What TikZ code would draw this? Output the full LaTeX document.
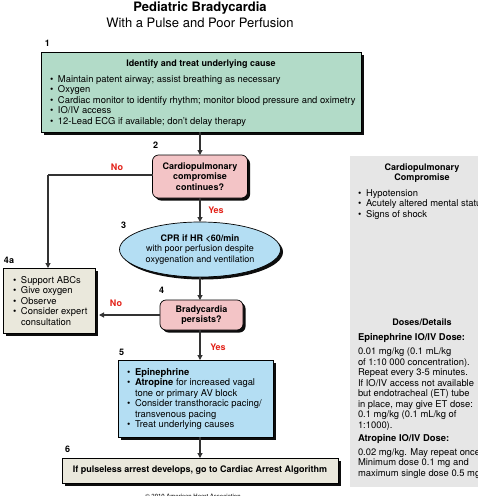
\documentclass[tikz,border=0pt]{standalone}
\usepackage{fontspec}
\setmainfont{TeX Gyre Heros}
\usetikzlibrary{shapes.geometric,shadows,arrows.meta}
\definecolor{boxgreen}{HTML}{B2DBC8}
\definecolor{boxpink}{HTML}{F3C4C6}
\definecolor{boxblue}{HTML}{B4DEF3}
\definecolor{boxbeige}{HTML}{EAE8DC}
\definecolor{panelgrey}{HTML}{E6E6E6}
\definecolor{labred}{HTML}{E32219}
\definecolor{linegrey}{HTML}{333333}
\newcommand\bitem[1]{\makebox[8pt][l]{\textbullet}#1}
\newcommand\bcont[1]{\hspace*{8pt}#1}
\begin{document}
\begin{tikzpicture}[x=1pt,y=-1pt,
  every node/.style={inner sep=0pt, outer sep=0pt},
  body/.style={font=\fontsize{9.4}{10.5}\selectfont},
  bodyb/.style={font=\fontsize{9}{10.5}\selectfont\bfseries},
  shad/.style={drop shadow={shadow xshift=2.5pt,shadow yshift=-2.5pt,fill=black,opacity=0.95}},
  boxbase/.style={draw=black, line width=0.7pt, shad},
  greenbox/.style={boxbase, fill=boxgreen, rectangle},
  pinkbox/.style={boxbase, fill=boxpink, rectangle, rounded corners=6pt, bodyb, align=center},
  bluebox/.style={boxbase, fill=boxblue, rectangle},
  beigebox/.style={boxbase, fill=boxbeige, rectangle},
  ellbox/.style={boxbase, fill=boxblue, ellipse, bodyb, align=center},
  txt/.style={body, align=left, anchor=base west},
  num/.style={bodyb, anchor=base west},
  yn/.style={bodyb, text=labred},
  arr/.style={draw=linegrey, line width=1.1pt, -{Triangle[length=5pt,width=5pt]}},
  ln/.style={draw=linegrey, line width=1.1pt}
]
\useasboundingbox (0,0) rectangle (478,496);
\begin{scope}
\clip (0,0) rectangle (478,496);
\fill[white] (0,0) rectangle (478,496);

% title
\node[font=\fontsize{13}{15}\selectfont\bfseries] (title) at (200,8) {Pediatric Bradycardia};
\node[font=\fontsize{13}{15}\selectfont] (subtitle) at (200,23) {With a Pulse and Poor Perfusion};

% right panel
\node[fill=panelgrey, minimum width=140pt, minimum height=331pt, anchor=north west] (panel) at (350,156) {};
\node[bodyb, align=center, anchor=base] (pt1) at (422,180.5) {Cardiopulmonary\\Compromise};
\node[txt] (pt2) at (358,217) {\bitem{Hypotension}\\\bitem{Acutely altered mental status}\\\bitem{Signs of shock}};
\node[bodyb, anchor=base] (pt3) at (422,325) {Doses/Details};
\node[txt] (pt4) at (358,428) {\textbf{Epinephrine IO/IV Dose:}\\[3.5pt]0.01 mg/kg (0.1 mL/kg\\of 1:10 000 concentration).\\Repeat every 3-5 minutes.\\If IO/IV access not available\\but endotracheal (ET) tube\\in place, may give ET dose:\\0.1 mg/kg (0.1 mL/kg of\\1:1000).};
\node[txt] (pt5) at (358,476) {\textbf{Atropine IO/IV Dose:}\\[3.5pt]0.02 mg/kg. May repeat once.\\Minimum dose 0.1 mg and\\maximum single dose 0.5 mg.};

% box 1
\node[num] (n1) at (45,46) {1};
\node[greenbox, minimum width=320pt, minimum height=80pt, anchor=north west] (b1) at (41,52) {};
\node[bodyb, anchor=base] (h1) at (201,66) {Identify and treat underlying cause};
\node[txt] (t1) at (50,124) {\bitem{Maintain patent airway; assist breathing as necessary}\\\bitem{Oxygen}\\\bitem{Cardiac monitor to identify rhythm; monitor blood pressure and oximetry}\\\bitem{IO/IV access}\\\bitem{12-Lead ECG if available; don't delay therapy}};

% box 2
\node[num] (n2) at (153,148) {2};
\node[pinkbox, minimum width=95pt, minimum height=43pt] (b2) at (200,176.5) {Cardiopulmonary\\compromise\\continues?};

% ellipse 3
\node[num] (n3) at (121,228) {3};
\node[ellbox, minimum width=161pt, minimum height=55pt] (b3) at (200,249.5) {CPR if HR <60/min\\\mdseries with poor perfusion despite\\\mdseries oxygenation and ventilation};

% box 4
\node[num] (n4) at (159,293) {4};
\node[pinkbox, minimum width=83pt, minimum height=30pt] (b4) at (201.5,315) {Bradycardia\\persists?};

% box 4a
\node[num] (n4a) at (4,263) {4a};
\node[beigebox, minimum width=92pt, minimum height=65pt, anchor=north west] (b4a) at (3,268) {};
\node[txt] (t4a) at (13,325) {\bitem{Support ABCs}\\\bitem{Give oxygen}\\\bitem{Observe}\\\bitem{Consider expert}\\\bcont{consultation}};

% box 5
\node[num] (n5) at (119,355) {5};
\node[bluebox, minimum width=155pt, minimum height=77pt, anchor=north west] (b5) at (118,360) {};
\node[txt] (t5) at (127,427.5) {\bitem{\textbf{Epinephrine}}\\\bitem{\textbf{Atropine} for increased vagal}\\\bcont{tone or primary AV block}\\\bitem{Consider transthoracic pacing/}\\\bcont{transvenous pacing}\\\bitem{Treat underlying causes}};

% box 6
\node[num] (n6) at (65,452) {6};
\node[beigebox, bodyb, minimum width=276pt, minimum height=25pt] (b6) at (200,470.5) {If pulseless arrest develops, go to Cardiac Arrest Algorithm};

% copyright
\node[font=\fontsize{6}{7}\selectfont, anchor=north] (copy) at (193,494) {\textcopyright{} 2010 American Heart Association};

% connectors
\draw[arr] (b1.south -| b2.north) -- (b2.north);
\draw[arr] (b2.south) -- (b3.north);
\draw[arr] (b3.south) -- (b3.south |- b4.north);
\draw[arr] (b4.south -| b3.south) -- (b3.south |- b5.north);
\draw[arr] (b5.south -| b3.south) -- (b3.south |- b6.north);
\coordinate (c1) at (48,175);
\draw[ln] (b2.west |- c1) -- (c1);
\draw[arr] (c1) -- (c1 |- b4a.north);
\draw[arr] (b4.west) -- ([xshift=4pt]b4.west -| b4a.east);

% yes/no labels
\node[yn] (no1) at (117,167) {No};
\node[yn] (yes1) at (216,210) {Yes};
\node[yn] (no2) at (116,303) {No};
\node[yn] (yes2) at (218,347) {Yes};
\end{scope}
\end{tikzpicture}
\end{document}
